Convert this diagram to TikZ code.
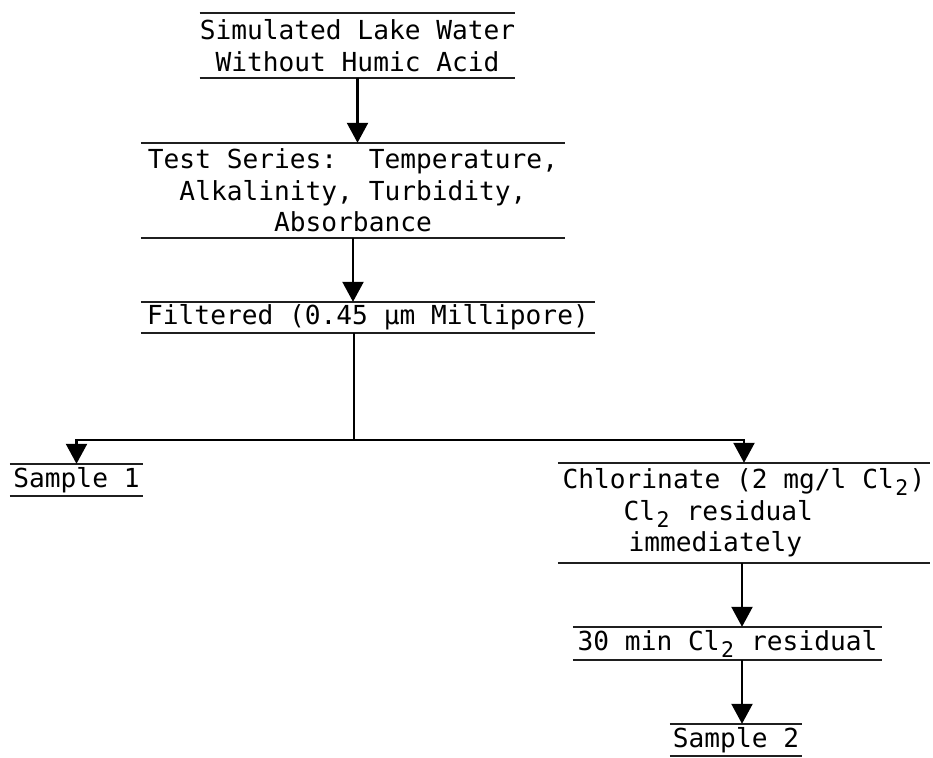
\documentclass[tikz,border=0pt]{standalone}
\usepackage{fontspec}
\setmonofont{DejaVu Sans Mono}
\usetikzlibrary{arrows.meta}

% lowered, slightly reduced subscript "2" that keeps one monospace cell
\newcommand\subtwo{\raisebox{-7pt}{\makebox[0.602em][c]{\scalebox{0.82}{2}}}}

\tikzset{
  stage/.style={inner sep=0pt, align=center, text=black,
    font=\ttfamily\fontsize{26.2pt}{31.5pt}\selectfont},
  rule/.style={line width=2pt, draw=black!88},
  wire/.style={line width=2.3pt, draw=black},
  arr/.style={wire, -{Triangle[length=20pt,width=21pt]}},
}

\begin{document}
\begin{tikzpicture}[x=1pt,y=-1pt]
  \fill[white] (0,0) rectangle (933,757);
  \useasboundingbox (0,0) rectangle (933,757);

  % process stages
  \node[stage, minimum width=315pt, minimum height=65pt] (src) at (357.5,45.5)
    {Simulated Lake Water\\Without Humic Acid};
  \node[stage, minimum width=424pt, minimum height=95pt] (tests) at (353,190.5)
    {Test Series:\ \ Temperature,\\Alkalinity, Turbidity,\\Absorbance};
  \node[stage, minimum width=454pt, minimum height=31pt] (filt) at (368,317.5)
    {Filtered (0.45 μm Millipore)};
  \node[stage, minimum width=133pt, minimum height=32pt] (s1) at (76.5,480)
    {Sample 1};
  \node[stage, align=left, minimum width=372pt, minimum height=100pt] (chl) at (744,513)
    {Chlorinate (2 mg/l Cl\subtwo)\\
     \hspace*{61pt}Cl\subtwo{} residual\\
     \hspace*{66pt}immediately};
  \node[stage, minimum width=309pt, minimum height=33pt] (min30) at (727.5,643.5)
    {30 min Cl\subtwo{} residual};
  \node[stage, minimum width=132pt, minimum height=32pt] (s2) at (736,740)
    {Sample 2};

  % rules above and below each stage
  \foreach \n in {src,tests,filt,s1,chl,min30,s2}
    \draw[rule] (\n.north west) -- (\n.north east)
                (\n.south west) -- (\n.south east);

  % flow
  \draw[arr] (src.south) -- (src.south |- tests.north);
  \draw[arr] (tests.south) -- (tests.south |- filt.north);
  \coordinate (split) at (354,440);
  \draw[wire] (filt.south -| split) -- (split);
  \draw[arr] (split) -| (s1.north);
  \draw[arr] (split) -| (chl.north);
  \coordinate (branch) at (742,0);
  \draw[arr] (chl.south -| branch) -- (min30.north -| branch);
  \draw[arr] (min30.south -| branch) -- (s2.north -| branch);
\end{tikzpicture}
\end{document}
